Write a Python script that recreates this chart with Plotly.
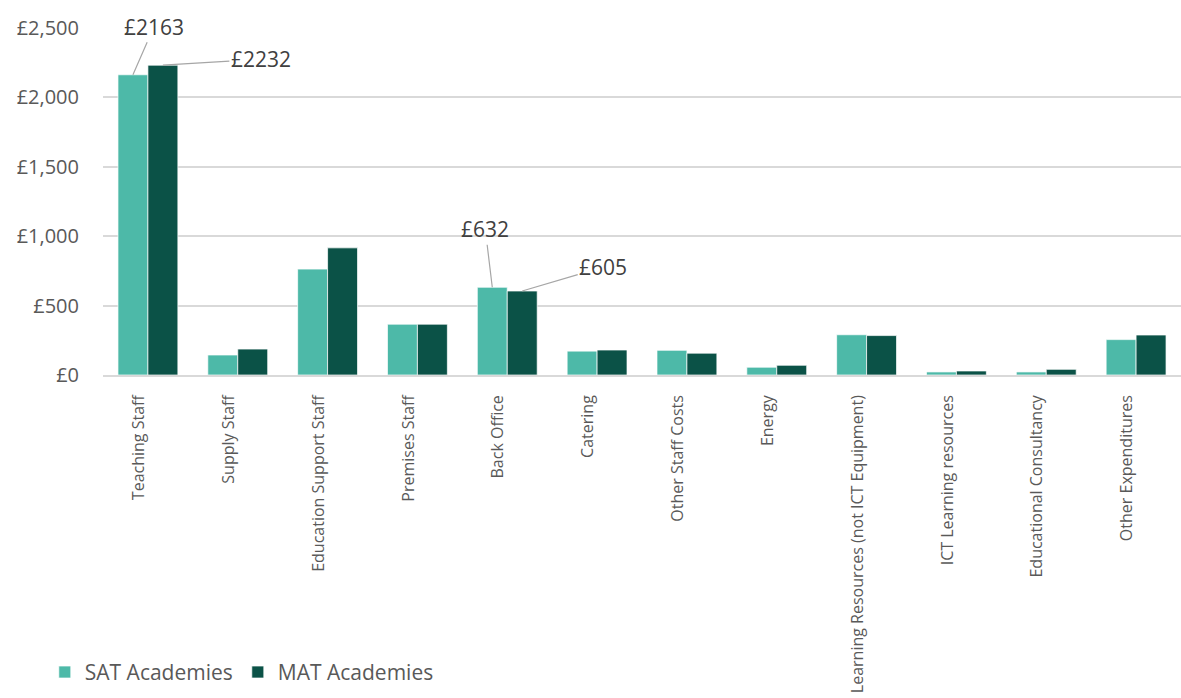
import plotly.graph_objects as go

categories = [
    "Teaching Staff", "Supply Staff", "Education Support Staff", "Premises Staff",
    "Back Office", "Catering", "Other Staff Costs", "Energy",
    "Learning Resources (not ICT Equipment)", "ICT Learning resources",
    "Educational Consultancy", "Other Expenditures",
]
sat_values = [2163, 144, 763, 366, 632, 172, 178, 56, 290, 22, 22, 255]
mat_values = [2232, 187, 916, 366, 605, 180, 157, 70, 284, 29, 41, 288]

y_ticks = [0, 500, 1000, 1500, 2000, 2500]
y_tick_text = ["£0", "£500", "£1,000", "£1,500", "£2,000", "£2,500"]

SAT_COLOR = "#4DB9A8"
MAT_COLOR = "#0B5247"
FONT = "Open Sans"

fig = go.Figure()
fig.add_trace(go.Bar(
    x=categories, y=sat_values, name="SAT Academies",
    marker=dict(color=SAT_COLOR, line=dict(color="rgba(255,255,255,0.7)", width=1)),
))
fig.add_trace(go.Bar(
    x=categories, y=mat_values, name="MAT Academies",
    marker=dict(color=MAT_COLOR, line=dict(color="rgba(255,255,255,0.7)", width=1)),
))

# value callouts with leader lines (bar index, series offset, value, text offset)
callouts = [
    (0, -1 / 6, sat_values[0], 21, -48),
    (0, 1 / 6, mat_values[0], 98, -6),
    (4, -1 / 6, sat_values[4], -7, -58),
    (4, 1 / 6, mat_values[4], 81, -24),
]
for idx, off, val, ax, ay in callouts:
    fig.add_annotation(
        x=idx + off, y=val, xref="x", yref="y",
        text=f"£{val}", showarrow=True, arrowhead=0, arrowwidth=1.2,
        arrowcolor="#A6A6A6", ax=ax, ay=ay,
        font=dict(family=FONT, size=21, color="#404040"),
    )

fig.update_layout(
    width=1181, height=698,
    margin=dict(l=103, r=0, t=28, b=323),
    paper_bgcolor="white", plot_bgcolor="white",
    barmode="group", bargap=1 / 3, bargroupgap=0,
    font=dict(family=FONT, color="#595959"),
    legend=dict(
        orientation="h", x=-0.054, y=-0.857, xanchor="left", yanchor="middle",
        font=dict(family=FONT, size=21, color="#595959"),
        itemwidth=30,
    ),
    showlegend=True,
)
fig.update_xaxes(
    type="category", tickangle=-90, showgrid=False,
    tickfont=dict(family=FONT, size=16, color="#595959"),
    showline=True, linecolor="#D9D9D9", linewidth=1.5, ticks="",
    ticklabelstandoff=12, ticklabelshift=-9,
    range=[-0.5, len(categories) - 0.5],
)
fig.update_yaxes(
    range=[0, 2500], tickvals=y_ticks, ticktext=y_tick_text,
    showgrid=True, gridcolor="#D9D9D9", gridwidth=1.5,
    zeroline=False, showline=False, ticks="", ticklabelstandoff=23,
    tickfont=dict(family=FONT, size=20, color="#595959"),
)

fig.write_html("out.html")
